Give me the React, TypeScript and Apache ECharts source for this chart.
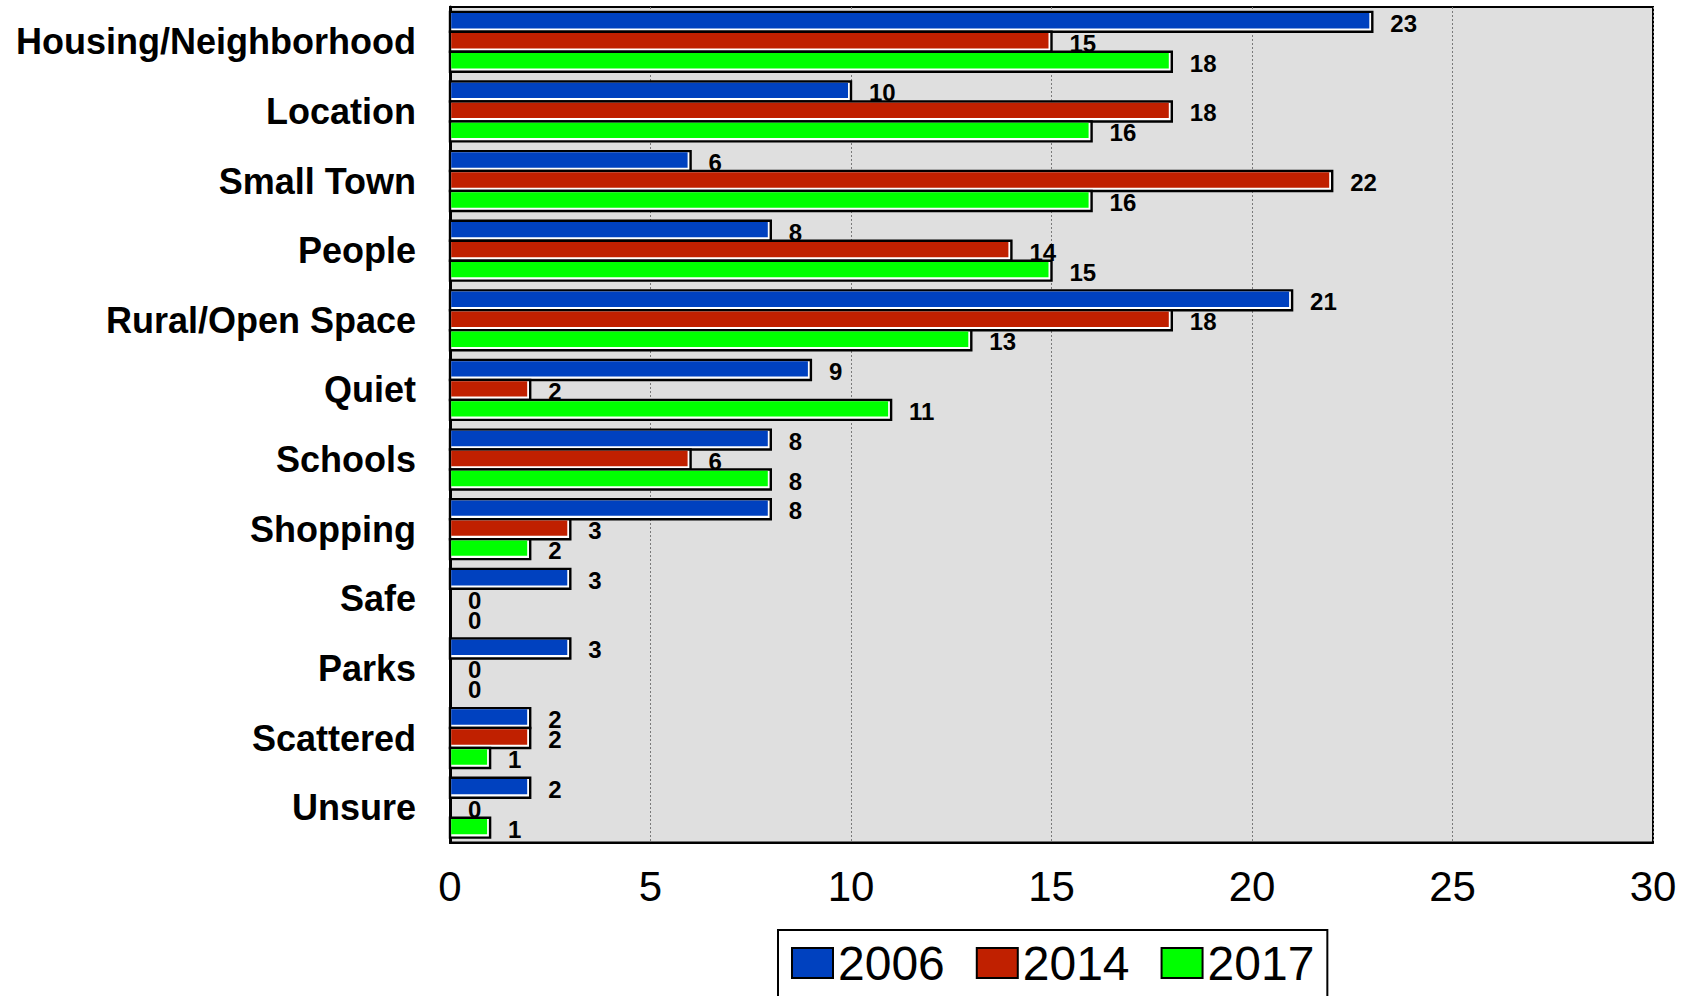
import React, { useEffect, useRef } from "react";
import * as echarts from "echarts";

const categories = [
  "Housing/Neighborhood",
  "Location",
  "Small Town",
  "People",
  "Rural/Open Space",
  "Quiet",
  "Schools",
  "Shopping",
  "Safe",
  "Parks",
  "Scattered",
  "Unsure",
];
const years = ["2006", "2014", "2017"];
const values2006 = [23, 10, 6, 8, 21, 9, 8, 8, 3, 3, 2, 2];
const values2014 = [15, 18, 22, 14, 18, 2, 6, 3, 0, 0, 2, 0];
const values2017 = [18, 16, 16, 15, 13, 11, 8, 2, 0, 0, 1, 1];
const xTicks = [0, 5, 10, 15, 20, 25, 30];

const colors = ["#0041bf", "#c02000", "#00ff00"];
const FONT = '"Liberation Sans", Arial, sans-serif';

export default function App() {
  const ref = useRef<HTMLDivElement>(null);

  useEffect(() => {
    if (!ref.current) return;
    const chart = echarts.init(ref.current, undefined, { renderer: "svg" });
    const seriesValues = [values2006, values2014, values2017];

    const makeRender = (sIdx: number) => (params: any, api: any) => {
      const v = api.value(0);
      const ci = api.value(1);
      const base = api.coord([0, ci]);
      const end = api.coord([v, ci]);
      const band = api.size([0, 1])[1];
      const pitch = band * 0.287;
      const h = pitch;
      const top = base[1] - 1.5 * pitch + sIdx * pitch;
      const x0 = base[0];
      const w = end[0] - x0;
      const children: any[] = [];
      if (w > 0) {
        children.push({
          type: "rect",
          shape: { x: x0, y: top, width: w, height: h },
          style: { fill: "#ffffff", stroke: "#000000", lineWidth: 2.4 },
        });
        children.push({
          type: "rect",
          shape: { x: x0 + 1.2, y: top + 1.2, width: Math.max(0, w - 4.2), height: h - 4.6 },
          style: { fill: colors[sIdx] },
        });
      }
      children.push({
        type: "text",
        style: {
          text: String(v),
          x: end[0] + 18,
          y: top + h / 2 + 1.5,
          align: "left",
          verticalAlign: "middle",
          fontSize: 24,
          fontWeight: "bold",
          fontFamily: FONT,
          fill: "#000000",
        },
      });
      return { type: "group", children };
    };

    chart.setOption({
      animation: false,
      backgroundColor: "#ffffff",
      grid: {
        left: 450,
        right: 45,
        top: 7,
        bottom: 153.5,
        show: true,
        backgroundColor: "#dfdfdf",
        borderColor: "#000000",
        borderWidth: 2,
      },
      xAxis: {
        type: "value",
        min: xTicks[0],
        max: xTicks[xTicks.length - 1],
        interval: 5,
        axisLine: { show: true, lineStyle: { color: "#000", width: 2 } },
        axisTick: { show: false },
        axisLabel: {
          fontSize: 42,
          fontFamily: FONT,
          color: "#000",
          margin: 23,
        },
        splitLine: {
          show: true,
          lineStyle: { color: "#7a7a7a", width: 1, type: [2, 2] },
        },
      },
      yAxis: {
        type: "category",
        data: categories,
        inverse: true,
        axisLine: { show: true, lineStyle: { color: "#000", width: 3 } },
        axisTick: { show: false },
        axisLabel: {
          fontSize: 36,
          fontWeight: "bold",
          fontFamily: FONT,
          color: "#000",
          margin: 34,
        },
        splitLine: { show: false },
      },
      legend: {
        data: years.map((y, i) => ({
          name: y,
          icon: "rect",
          itemStyle: { color: colors[i], borderColor: "#000", borderWidth: 2 },
        })),
        left: 778,
        top: 930,
        orient: "horizontal",
        padding: [9, 13, 20, 13],
        itemWidth: 41,
        itemHeight: 30,
        itemGap: 31,
        borderColor: "#000",
        borderWidth: 2,
        backgroundColor: "#ffffff",
        textStyle: { fontSize: 48, fontFamily: FONT, color: "#000" },
      },
      series: years.map((y, i) => ({
        name: y,
        type: "custom",
        renderItem: makeRender(i),
        itemStyle: { color: colors[i] },
        encode: { x: 0, y: 1 },
        clip: false,
        data: seriesValues[i].map((v, ci) => [v, ci]),
      })),
    });

    return () => chart.dispose();
  }, []);

  return (
    <div
      ref={ref}
      style={{ position: "absolute", left: 0, top: 0, width: 1698, height: 996 }}
    />
  );
}
